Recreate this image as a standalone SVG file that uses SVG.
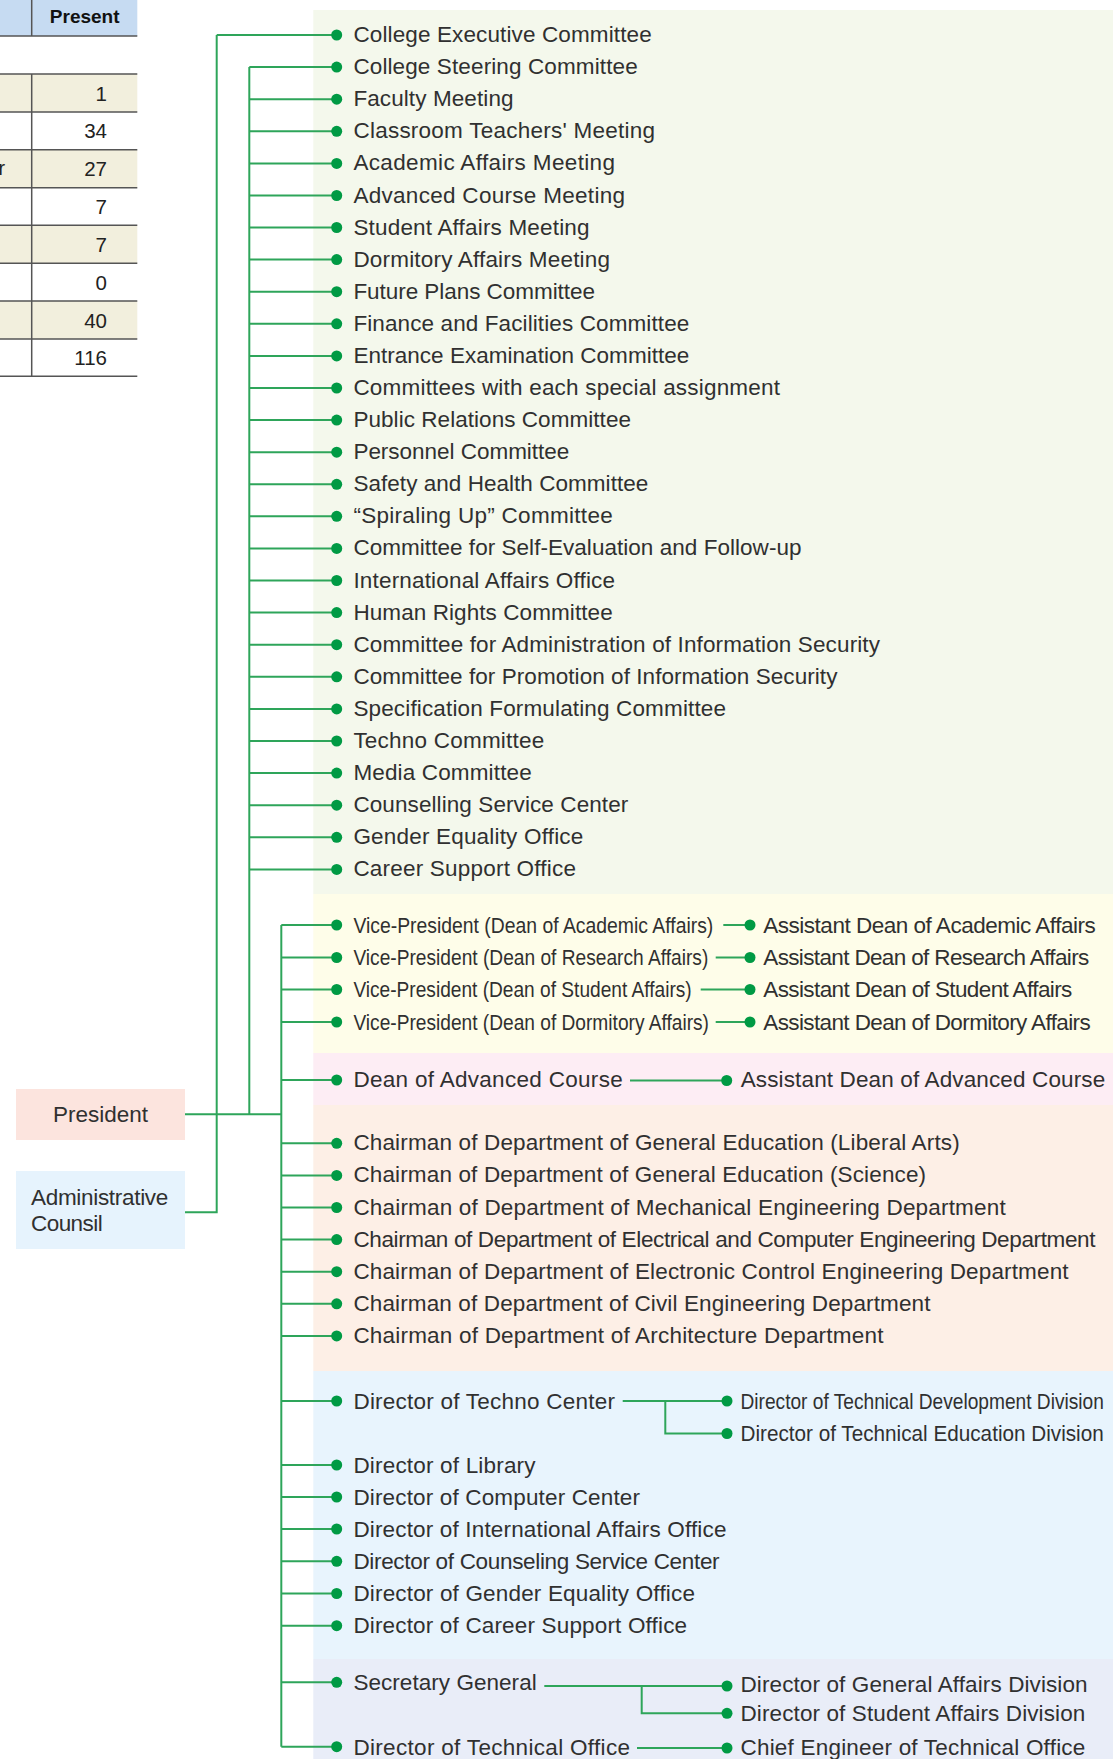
<svg xmlns="http://www.w3.org/2000/svg" width="1113" height="1759" viewBox="0 0 1113 1759">
<style>
.t{font-family:"Liberation Sans",Arial,Helvetica,sans-serif;font-size:22.5px;fill:#303030}
.n{font-family:"Liberation Sans",Arial,Helvetica,sans-serif;font-size:20.5px;fill:#222}
.h{font-family:"Liberation Sans",Arial,Helvetica,sans-serif;font-size:19px;font-weight:bold;fill:#111}
.ln{stroke:#2ea55a;stroke-width:2;fill:none}
.tl{stroke:#555;stroke-width:1.5;fill:none}
</style>
<defs>
<marker id="dot" markerUnits="userSpaceOnUse" markerWidth="12" markerHeight="12" refX="6" refY="6" viewBox="0 0 12 12">
<circle cx="6" cy="6" r="5.5" fill="#009a44"/>
</marker>
</defs>

<!-- background panels -->
<rect x="313.3" y="10" width="800" height="884" fill="#f4f8ec"/>
<rect x="313.3" y="894" width="800" height="159" fill="#fefde9"/>
<rect x="313.3" y="1053" width="800" height="52" fill="#fdedf4"/>
<rect x="313.3" y="1105" width="800" height="266" fill="#fdefe6"/>
<rect x="313.3" y="1371" width="800" height="288" fill="#e8f4fd"/>
<rect x="313.3" y="1659" width="800" height="100" fill="#e9edf8"/>

<!-- partial table -->
<g id="table">
<rect x="0" y="0" width="137.3" height="36" fill="#c6dbf2"/>
<rect x="0" y="74" width="137.3" height="38" fill="#f2efdd"/>
<rect x="0" y="149.7" width="137.3" height="38" fill="#f2efdd"/>
<rect x="0" y="225.3" width="137.3" height="38" fill="#f2efdd"/>
<rect x="0" y="301" width="137.3" height="38" fill="#f2efdd"/>
<path class="tl" d="M31.7 0V36M31.7 74V376.3"/>
<path class="tl" d="M0 36H137.3M0 74H137.3M0 112H137.3M0 149.7H137.3M0 187.7H137.3M0 225.3H137.3M0 263.3H137.3M0 301H137.3M0 339H137.3M0 376.3H137.3"/>
<text class="h" x="84.7" y="23" text-anchor="middle">Present</text>
<text class="n" x="5" y="175.3" text-anchor="end">r</text>
<text class="n" x="107" y="100.5" text-anchor="end">1</text>
<text class="n" x="107" y="138.3" text-anchor="end">34</text>
<text class="n" x="107" y="176" text-anchor="end">27</text>
<text class="n" x="107" y="214" text-anchor="end">7</text>
<text class="n" x="107" y="251.8" text-anchor="end">7</text>
<text class="n" x="107" y="289.5" text-anchor="end">0</text>
<text class="n" x="107" y="327.5" text-anchor="end">40</text>
<text class="n" x="107" y="365" text-anchor="end">116</text>
</g>

<!-- connectors -->
<g id="connectors">
<path class="ln" d="M216.7 35V1212.3H185"/>
<path class="ln" d="M249.3 67.1V1114.3"/>
<path class="ln" d="M185 1114.3H281.3"/>
<path class="ln" d="M281.3 925V1746.7"/>
<path class="ln" marker-end="url(#dot)" d="M216.7 35H336.7"/>
<path class="ln" marker-end="url(#dot)" d="M249.3 67.1H336.7"/>
<path class="ln" marker-end="url(#dot)" d="M249.3 99.2H336.7"/>
<path class="ln" marker-end="url(#dot)" d="M249.3 131.3H336.7"/>
<path class="ln" marker-end="url(#dot)" d="M249.3 163.4H336.7"/>
<path class="ln" marker-end="url(#dot)" d="M249.3 195.5H336.7"/>
<path class="ln" marker-end="url(#dot)" d="M249.3 227.5H336.7"/>
<path class="ln" marker-end="url(#dot)" d="M249.3 259.6H336.7"/>
<path class="ln" marker-end="url(#dot)" d="M249.3 291.7H336.7"/>
<path class="ln" marker-end="url(#dot)" d="M249.3 323.8H336.7"/>
<path class="ln" marker-end="url(#dot)" d="M249.3 355.9H336.7"/>
<path class="ln" marker-end="url(#dot)" d="M249.3 388H336.7"/>
<path class="ln" marker-end="url(#dot)" d="M249.3 420.1H336.7"/>
<path class="ln" marker-end="url(#dot)" d="M249.3 452.2H336.7"/>
<path class="ln" marker-end="url(#dot)" d="M249.3 484.3H336.7"/>
<path class="ln" marker-end="url(#dot)" d="M249.3 516.3H336.7"/>
<path class="ln" marker-end="url(#dot)" d="M249.3 548.4H336.7"/>
<path class="ln" marker-end="url(#dot)" d="M249.3 580.5H336.7"/>
<path class="ln" marker-end="url(#dot)" d="M249.3 612.6H336.7"/>
<path class="ln" marker-end="url(#dot)" d="M249.3 644.7H336.7"/>
<path class="ln" marker-end="url(#dot)" d="M249.3 676.8H336.7"/>
<path class="ln" marker-end="url(#dot)" d="M249.3 708.9H336.7"/>
<path class="ln" marker-end="url(#dot)" d="M249.3 741H336.7"/>
<path class="ln" marker-end="url(#dot)" d="M249.3 773.1H336.7"/>
<path class="ln" marker-end="url(#dot)" d="M249.3 805.2H336.7"/>
<path class="ln" marker-end="url(#dot)" d="M249.3 837.3H336.7"/>
<path class="ln" marker-end="url(#dot)" d="M249.3 869.4H336.7"/>
<path class="ln" marker-end="url(#dot)" d="M281.3 925H336.7"/>
<path class="ln" marker-end="url(#dot)" d="M281.3 957.5H336.7"/>
<path class="ln" marker-end="url(#dot)" d="M281.3 989.5H336.7"/>
<path class="ln" marker-end="url(#dot)" d="M281.3 1022H336.7"/>
<path class="ln" marker-end="url(#dot)" d="M281.3 1080H336.7"/>
<path class="ln" marker-end="url(#dot)" d="M281.3 1143.3H336.7"/>
<path class="ln" marker-end="url(#dot)" d="M281.3 1175.4H336.7"/>
<path class="ln" marker-end="url(#dot)" d="M281.3 1207.5H336.7"/>
<path class="ln" marker-end="url(#dot)" d="M281.3 1239.6H336.7"/>
<path class="ln" marker-end="url(#dot)" d="M281.3 1271.7H336.7"/>
<path class="ln" marker-end="url(#dot)" d="M281.3 1303.8H336.7"/>
<path class="ln" marker-end="url(#dot)" d="M281.3 1335.9H336.7"/>
<path class="ln" marker-end="url(#dot)" d="M281.3 1401H336.7"/>
<path class="ln" marker-end="url(#dot)" d="M281.3 1465H336.7"/>
<path class="ln" marker-end="url(#dot)" d="M281.3 1497H336.7"/>
<path class="ln" marker-end="url(#dot)" d="M281.3 1529H336.7"/>
<path class="ln" marker-end="url(#dot)" d="M281.3 1561.3H336.7"/>
<path class="ln" marker-end="url(#dot)" d="M281.3 1593.5H336.7"/>
<path class="ln" marker-end="url(#dot)" d="M281.3 1625.7H336.7"/>
<path class="ln" marker-end="url(#dot)" d="M281.3 1682.3H336.7"/>
<path class="ln" marker-end="url(#dot)" d="M281.3 1746.7H336.7"/>
<path class="ln" marker-end="url(#dot)" d="M723.3 925H750"/>
<path class="ln" marker-end="url(#dot)" d="M715.7 957.5H750"/>
<path class="ln" marker-end="url(#dot)" d="M700.7 989.5H750"/>
<path class="ln" marker-end="url(#dot)" d="M715.7 1022H750"/>
<path class="ln" marker-end="url(#dot)" d="M630 1080.5H726.7"/>
<path class="ln" marker-end="url(#dot)" d="M622.7 1401H727"/>
<path class="ln" marker-end="url(#dot)" d="M665.3 1401V1433.5H727"/>
<path class="ln" marker-end="url(#dot)" d="M544.3 1686H727"/>
<path class="ln" marker-end="url(#dot)" d="M641.7 1686V1713.3H727"/>
<path class="ln" marker-end="url(#dot)" d="M637 1748H727"/>
</g>

<!-- root nodes -->
<g id="president">
<rect x="16" y="1089" width="169" height="51" fill="#fce4de"/>
<text class="t" x="100.5" y="1122" text-anchor="middle" textLength="95">President</text>
</g>
<g id="administrative-counsil">
<rect x="16" y="1171" width="169" height="78" fill="#e6f3fd"/>
<text class="t" x="31" y="1205" textLength="137.3">Administrative</text>
<text class="t" x="31" y="1230.7" textLength="71.7">Counsil</text>
</g>

<!-- committees -->
<g id="college-executive-committee"><text class="t" x="353.4" y="42" textLength="298.3">College Executive Committee</text></g>
<g id="college-steering-committee"><text class="t" x="353.4" y="74.1" textLength="284.3">College Steering Committee</text></g>
<g id="faculty-meeting"><text class="t" x="353.4" y="106.2" textLength="160.1">Faculty Meeting</text></g>
<g id="classroom-teachers-meeting"><text class="t" x="353.4" y="138.3" textLength="301.6">Classroom Teachers' Meeting</text></g>
<g id="academic-affairs-meeting"><text class="t" x="353.4" y="170.4" textLength="261.6">Academic Affairs Meeting</text></g>
<g id="advanced-course-meeting"><text class="t" x="353.4" y="202.5" textLength="271.6">Advanced Course Meeting</text></g>
<g id="student-affairs-meeting"><text class="t" x="353.4" y="234.5" textLength="236.1">Student Affairs Meeting</text></g>
<g id="dormitory-affairs-meeting"><text class="t" x="353.4" y="266.6" textLength="256.6">Dormitory Affairs Meeting</text></g>
<g id="future-plans-committee"><text class="t" x="353.4" y="298.7" textLength="241.6">Future Plans Committee</text></g>
<g id="finance-facilities-committee"><text class="t" x="353.4" y="330.8" textLength="335.9">Finance and Facilities Committee</text></g>
<g id="entrance-examination-committee"><text class="t" x="353.4" y="362.9" textLength="335.9">Entrance Examination Committee</text></g>
<g id="special-assignment-committees"><text class="t" x="353.4" y="395" textLength="426.6">Committees with each special assignment</text></g>
<g id="public-relations-committee"><text class="t" x="353.4" y="427.1" textLength="277.6">Public Relations Committee</text></g>
<g id="personnel-committee"><text class="t" x="353.4" y="459.2" textLength="215.9">Personnel Committee</text></g>
<g id="safety-health-committee"><text class="t" x="353.4" y="491.3" textLength="294.9">Safety and Health Committee</text></g>
<g id="spiraling-up-committee"><text class="t" x="353.4" y="523.3" textLength="259.3">“Spiraling Up” Committee</text></g>
<g id="self-evaluation-committee"><text class="t" x="353.4" y="555.4" textLength="448.1">Committee for Self-Evaluation and Follow-up</text></g>
<g id="international-affairs-office"><text class="t" x="353.4" y="587.5" textLength="261.6">International Affairs Office</text></g>
<g id="human-rights-committee"><text class="t" x="353.4" y="619.6" textLength="259.3">Human Rights Committee</text></g>
<g id="info-security-admin-committee"><text class="t" x="353.4" y="651.7" textLength="526.6">Committee for Administration of Information Security</text></g>
<g id="info-security-promotion-committee"><text class="t" x="353.4" y="683.8" textLength="484">Committee for Promotion of Information Security</text></g>
<g id="specification-committee"><text class="t" x="353.4" y="715.9" textLength="372.6">Specification Formulating Committee</text></g>
<g id="techno-committee"><text class="t" x="353.4" y="748" textLength="190.9">Techno Committee</text></g>
<g id="media-committee"><text class="t" x="353.4" y="780.1" textLength="178.3">Media Committee</text></g>
<g id="counselling-service-center"><text class="t" x="353.4" y="812.2" textLength="274.9">Counselling Service Center</text></g>
<g id="gender-equality-office"><text class="t" x="353.4" y="844.3" textLength="229.9">Gender Equality Office</text></g>
<g id="career-support-office"><text class="t" x="353.4" y="876.4" textLength="222.6">Career Support Office</text></g>

<!-- vice presidents -->
<g id="vp-academic"><text class="t" x="353.4" y="932.5" textLength="359.9" lengthAdjust="spacingAndGlyphs">Vice-President (Dean of Academic Affairs)</text></g>
<g id="vp-research"><text class="t" x="353.4" y="965" textLength="354.9" lengthAdjust="spacingAndGlyphs">Vice-President (Dean of Research Affairs)</text></g>
<g id="vp-student"><text class="t" x="353.4" y="997" textLength="338.3" lengthAdjust="spacingAndGlyphs">Vice-President (Dean of Student Affairs)</text></g>
<g id="vp-dormitory"><text class="t" x="353.4" y="1029.5" textLength="355.6" lengthAdjust="spacingAndGlyphs">Vice-President (Dean of Dormitory Affairs)</text></g>
<g id="ad-academic"><text class="t" x="763.3" y="932.5" textLength="332.4">Assistant Dean of Academic Affairs</text></g>
<g id="ad-research"><text class="t" x="763.3" y="965" textLength="326">Assistant Dean of Research Affairs</text></g>
<g id="ad-student"><text class="t" x="763.3" y="997" textLength="309">Assistant Dean of Student Affairs</text></g>
<g id="ad-dormitory"><text class="t" x="763.3" y="1029.5" textLength="327.4">Assistant Dean of Dormitory Affairs</text></g>

<g id="dean-advanced-course"><text class="t" x="353.4" y="1087.3" textLength="269.3">Dean of Advanced Course</text></g>
<g id="ad-advanced-course"><text class="t" x="740.7" y="1087.3" textLength="364.5">Assistant Dean of Advanced Course</text></g>

<!-- chairmen -->
<g id="ch-liberal-arts"><text class="t" x="353.4" y="1150.3" textLength="606.3">Chairman of Department of General Education (Liberal Arts)</text></g>
<g id="ch-science"><text class="t" x="353.4" y="1182.4" textLength="572.7">Chairman of Department of General Education (Science)</text></g>
<g id="ch-mechanical"><text class="t" x="353.4" y="1214.5" textLength="652.3">Chairman of Department of Mechanical Engineering Department</text></g>
<g id="ch-electrical"><text class="t" x="353.4" y="1246.6" textLength="742.1">Chairman of Department of Electrical and Computer Engineering Department</text></g>
<g id="ch-electronic"><text class="t" x="353.4" y="1278.7" textLength="715.2">Chairman of Department of Electronic Control Engineering Department</text></g>
<g id="ch-civil"><text class="t" x="353.4" y="1310.8" textLength="577.1">Chairman of Department of Civil Engineering Department</text></g>
<g id="ch-architecture"><text class="t" x="353.4" y="1342.9" textLength="530">Chairman of Department of Architecture Department</text></g>

<!-- directors -->
<g id="dir-techno-center"><text class="t" x="353.4" y="1408.5" textLength="261.6">Director of Techno Center</text></g>
<g id="dir-tech-development"><text class="t" transform="translate(740.5 1408.5) scale(0.851 1)" x="0" y="0">Director of Technical Development Division</text></g>
<g id="dir-tech-education"><text class="t" transform="translate(740.5 1441) scale(0.921 1)" x="0" y="0">Director of Technical Education Division</text></g>
<g id="dir-library"><text class="t" x="353.4" y="1472.5" textLength="182.1">Director of Library</text></g>
<g id="dir-computer-center"><text class="t" x="353.4" y="1504.5" textLength="286.6">Director of Computer Center</text></g>
<g id="dir-international"><text class="t" x="353.4" y="1536.5" textLength="373">Director of International Affairs Office</text></g>
<g id="dir-counseling"><text class="t" x="353.4" y="1568.8" textLength="366.2">Director of Counseling Service Center</text></g>
<g id="dir-gender"><text class="t" x="353.4" y="1601" textLength="341.5">Director of Gender Equality Office</text></g>
<g id="dir-career"><text class="t" x="353.4" y="1633.2" textLength="333.7">Director of Career Support Office</text></g>

<g id="secretary-general"><text class="t" x="353.4" y="1690" textLength="183.3">Secretary General</text></g>
<g id="dir-general-affairs"><text class="t" x="740.5" y="1691.5" textLength="347.1">Director of General Affairs Division</text></g>
<g id="dir-student-affairs"><text class="t" x="740.5" y="1720.5" textLength="344.8">Director of Student Affairs Division</text></g>
<g id="dir-technical-office"><text class="t" x="353.4" y="1754.5" textLength="276.6">Director of Technical Office</text></g>
<g id="chief-engineer"><text class="t" x="740.5" y="1755" textLength="344.8">Chief Engineer of Technical Office</text></g>
</svg>
